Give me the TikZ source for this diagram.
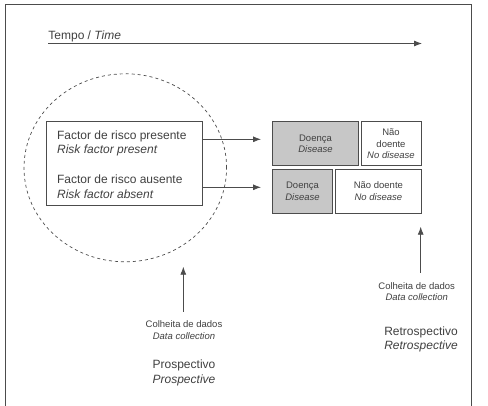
\documentclass[tikz,border=0pt]{standalone}
\usepackage{fontspec}
\setmainfont{Liberation Sans}
\usetikzlibrary{arrows.meta}
\definecolor{inkgrey}{gray}{0.25}
\definecolor{linegrey}{gray}{0.3}
\definecolor{cellgrey}{gray}{0.78}
\begin{document}
\begin{tikzpicture}[x=1pt,y=-1pt,line width=0.8pt,draw=linegrey,text=inkgrey,
    big/.style={font=\fontsize{12}{14.6}\selectfont,align=center,inner sep=0pt},
    small/.style={font=\fontsize{9.5}{11.6}\selectfont,align=center,inner sep=0pt},
    cell/.style={draw,minimum height=44pt,small,inner sep=0pt},
    arr/.style={-{Latex[length=8pt,width=6pt]}}]
  \useasboundingbox (0,0) rectangle (488,406);
  % frame, open at the bottom
  \draw (5,406) -- (5,4.5) -- (471.5,4.5) -- (471.5,406);
  % time axis
  \coordinate (t0) at (48,43.5);
  \coordinate (t1) at (422,43.5);
  \node[big,anchor=base west] (time) at (48,40) {Tempo / \textit{Time}};
  \draw[arr] (t0) -- (t1);
  % prospective cohort
  \draw[dashed,line width=0.7pt] (125.3,167.8) ellipse [x radius=101.3pt,y radius=94pt];
  \node[draw,minimum width=156.7pt,minimum height=84pt] (risk) at (124.3,163.7) {};
  \node[big,align=left,anchor=west] (present) at (56.7,143.3)
    {Factor de risco presente\\\textit{Risk factor present}};
  \node[big,align=left,anchor=west] (absent) at (56.7,186.7)
    {Factor de risco ausente\\\textit{Risk factor absent}};
  \coordinate (pa) at (261,139.3);
  \coordinate (aa) at (261,187.3);
  \draw[arr] (risk.east |- pa) -- (pa);
  \draw[arr] (risk.east |- aa) -- (aa);
  % outcome table
  \node[cell,fill=cellgrey,minimum width=85.6pt] (dis1) at (315.5,143.7) {Doença\\\textit{Disease}};
  \node[cell,minimum width=60pt] (nod1) at (391,143.7) {Não\\doente\\\textit{No disease}};
  \node[cell,fill=cellgrey,minimum width=59.6pt] (dis2) at (302.5,191.3) {Doença\\\textit{Disease}};
  \node[cell,minimum width=85.3pt] (nod2) at (378.4,191.3) {Não doente\\\textit{No disease}};
  % data collection
  \coordinate (rb) at (420.7,272.7);
  \coordinate (rt) at (420.7,226.7);
  \draw[arr] (rb) -- (rt);
  \node[small] (colR) at (416.7,291.7) {Colheita de dados\\\textit{Data collection}};
  \node[big] (retro) at (421,339.2) {Retrospectivo\\\textit{Retrospective}};
  \coordinate (pb) at (183.3,311.7);
  \coordinate (pt) at (183.3,266.7);
  \draw[arr] (pb) -- (pt);
  \node[small] (colP) at (184,330.2) {Colheita de dados\\\textit{Data collection}};
  \node[big] (prosp) at (184,373) {Prospectivo\\\textit{Prospective}};
\end{tikzpicture}
\end{document}
